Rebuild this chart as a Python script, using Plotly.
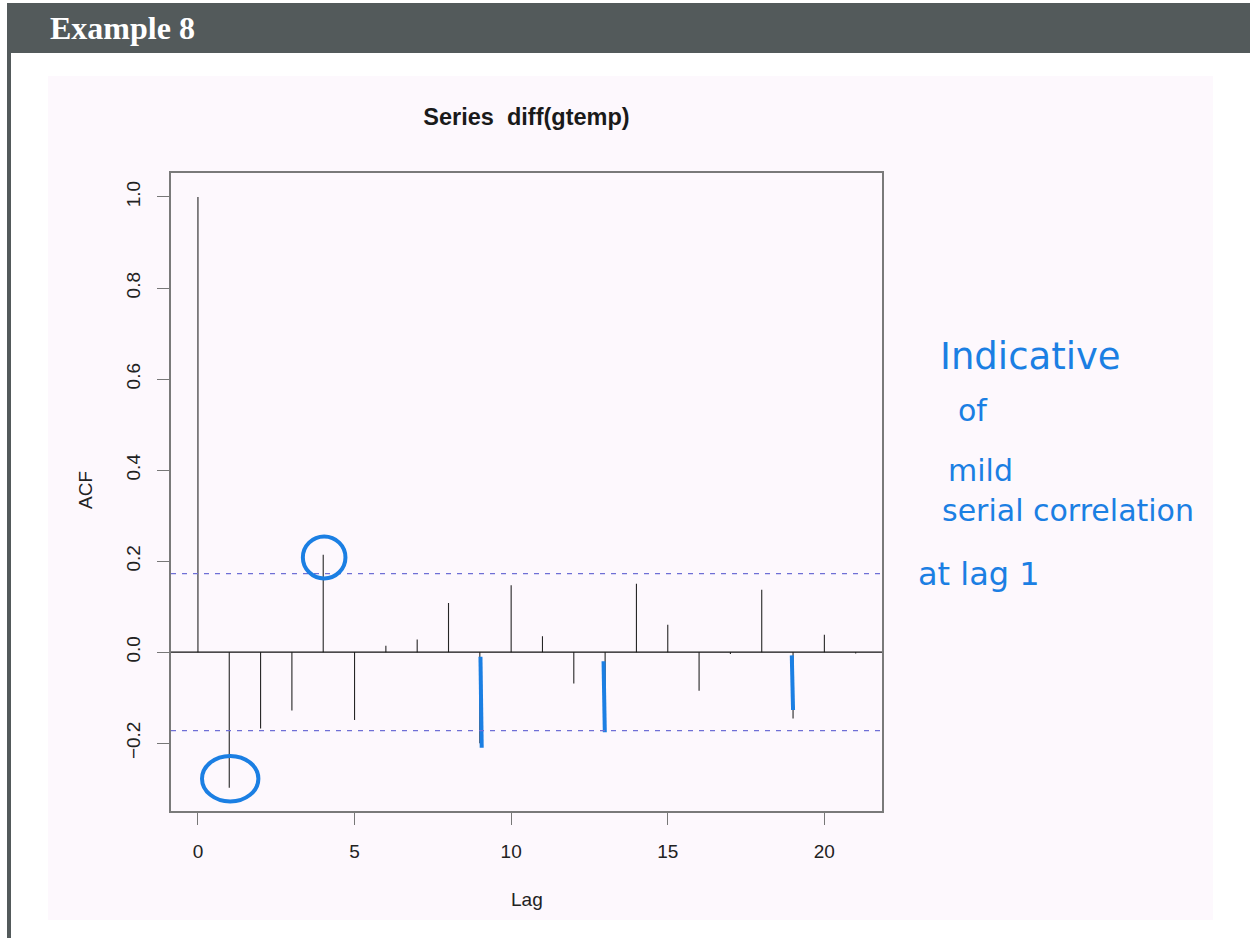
import plotly.graph_objects as go

# Sample autocorrelations of the differenced global temperature series
lags = list(range(22))
acf_values = [1.0, -0.298, -0.168, -0.128, 0.214, -0.149, 0.014, 0.028, 0.108, -0.200,
              0.147, 0.035, -0.069, -0.170, 0.150, 0.060, -0.085, -0.004, 0.137, -0.146,
              0.038, -0.003]
conf_limit = 0.1726          # 1.96 / sqrt(n)
x_ticks = [0, 5, 10, 15, 20]
y_ticks = [-0.2, 0.0, 0.2, 0.4, 0.6, 0.8, 1.0]
y_tick_labels = ["\u22120.2", "0.0", "0.2", "0.4", "0.6", "0.8", "1.0"]

# Hand-drawn highlights: circled lags and pen strokes over later spikes
circled_lags = [1, 4]
pen_lags = [9.02, 12.95, 18.96]
pen_start = [-0.01, -0.02, -0.007]
pen_end = [-0.21, -0.176, -0.127]
note_lines = ["Indicative", "of", "mild", "serial correlation", "at lag 1"]

W, H = 1250, 938
INK = "#1b7fe3"


def px(x):
    return x / W


def py(y):
    return 1 - y / H


fig = go.Figure()

# ACF spikes
sx, sy = [], []
for lag, v in zip(lags, acf_values):
    sx += [lag, lag, None]
    sy += [0, v, None]
fig.add_trace(go.Scatter(x=sx, y=sy, mode="lines",
                         line=dict(color="#262626", width=1.1),
                         hoverinfo="skip", showlegend=False))

# Pen strokes
for lag, y0, y1 in zip(pen_lags, pen_start, pen_end):
    fig.add_trace(go.Scatter(x=[lag, lag + 0.02, lag + 0.04], y=[y0, (y0 + y1) / 2, y1],
                             mode="lines", line=dict(color=INK, width=4),
                             hoverinfo="skip", showlegend=False))

shapes = [
    # slide header bar and left rule
    dict(type="rect", xref="paper", yref="paper", x0=px(7), x1=1, y0=py(53), y1=py(3),
         fillcolor="#535a5b", line_width=0, layer="below"),
    dict(type="rect", xref="paper", yref="paper", x0=px(7), x1=px(11), y0=0, y1=py(53),
         fillcolor="#535a5b", line_width=0, layer="below"),
    # light panel behind the figure
    dict(type="rect", xref="paper", yref="paper", x0=px(48), x1=px(1213), y0=py(920), y1=py(76),
         fillcolor="#fdf8fd", line_width=0, layer="below"),
    # zero line and significance bounds
    dict(type="line", xref="paper", yref="y", x0=px(171), x1=px(882), y0=0, y1=0,
         line=dict(color="#111111", width=1.2)),
    dict(type="line", xref="paper", yref="y", x0=px(171), x1=px(882), y0=conf_limit, y1=conf_limit,
         line=dict(color="#6f6fd6", width=1.2, dash="5px,6px")),
    dict(type="line", xref="paper", yref="y", x0=px(171), x1=px(882), y0=-conf_limit, y1=-conf_limit,
         line=dict(color="#6f6fd6", width=1.2, dash="5px,6px")),
]

# Circles drawn around the highlighted spikes
for lag in circled_lags:
    v = acf_values[lag]
    rx = 0.9 if lag == 1 else 0.68
    ry = 0.05 if lag == 1 else 0.046
    cy = v + (0.02 if v < 0 else -0.006)
    shapes.append(dict(type="circle", xref="x", yref="y",
                       x0=lag + 0.03 - rx, x1=lag + 0.03 + rx, y0=cy - ry, y1=cy + ry,
                       line=dict(color=INK, width=4)))

annotations = [
    dict(text="<b>Example 8</b>", xref="paper", yref="paper", x=px(48), y=py(28),
         xanchor="left", yanchor="middle", showarrow=False,
         font=dict(family="Liberation Serif", size=32, color="white")),
    dict(text="ACF", xref="paper", yref="paper", x=px(86), y=py(490), textangle=-90,
         xanchor="center", yanchor="middle", showarrow=False,
         font=dict(family="Liberation Sans", size=19, color="#222222")),
    dict(text="Lag", xref="paper", yref="paper", x=px(527), y=py(899),
         xanchor="center", yanchor="middle", showarrow=False,
         font=dict(family="Liberation Sans", size=19, color="#222222")),
]

# Handwritten note
note_pos = [(938, 356, 37), (956, 410, 30), (946, 470, 30), (940, 510, 30), (916, 574, 32)]
for text, (x, y, s) in zip(note_lines, note_pos):
    annotations.append(dict(text=text, xref="paper", yref="paper", x=px(x), y=py(y),
                            xanchor="left", yanchor="middle", showarrow=False,
                            font=dict(family="DejaVu Sans", size=s, color=INK)))

fig.update_layout(
    width=W, height=H,
    margin=dict(l=0, r=0, t=0, b=0),
    paper_bgcolor="white",
    plot_bgcolor="#fdf8fd",
    title=dict(text="<b>Series  diff(gtemp)</b>", x=px(526.5), y=py(117),
               xanchor="center", yanchor="middle", xref="paper", yref="paper",
               font=dict(family="Liberation Sans", size=23.5, color="#1a1a1a")),
    shapes=shapes,
    annotations=annotations,
    showlegend=False,
)

fig.update_xaxes(domain=[px(171), px(882)], range=[-0.86, 21.84],
                 tickvals=x_ticks, ticks="outside", ticklen=12, tickwidth=1.2, tickcolor="#777777",
                 showline=True, linecolor="#7a7a7a", linewidth=1.6, mirror=True,
                 showgrid=False, zeroline=False, ticklabelstandoff=10,
                 tickfont=dict(family="Liberation Sans", size=19, color="#222222"))
fig.update_yaxes(domain=[py(811), py(173)], range=[-0.349, 1.0527],
                 tickvals=y_ticks, ticktext=y_tick_labels, tickangle=-90,
                 ticks="outside", ticklen=12, tickwidth=1.2, tickcolor="#777777",
                 showline=True, linecolor="#7a7a7a", linewidth=1.6, mirror=True,
                 showgrid=False, zeroline=False, ticklabelstandoff=10,
                 tickfont=dict(family="Liberation Sans", size=19, color="#222222"))

fig.write_html("out.html")
